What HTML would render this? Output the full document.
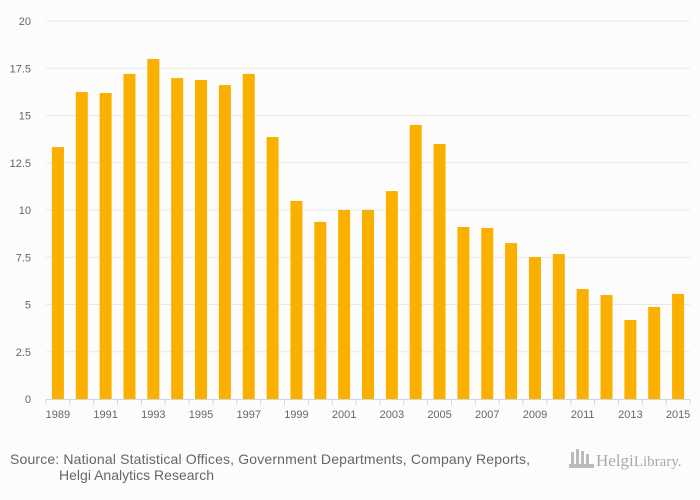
<!DOCTYPE html>
<html><head><meta charset="utf-8"><style>
body{margin:0;background:#fcfcfc;font-family:"Liberation Sans",sans-serif;}
svg{display:block}
</style></head><body>
<svg width="700" height="500">
<g id="grid"></g>
<g id="bars"></g>
<g id="axes"></g>
<text x="10" y="464" font-size="14" fill="#666" textLength="520">Source: National Statistical Offices, Government Departments, Company Reports,</text>
<text x="59" y="480" font-size="14" fill="#666" textLength="155">Helgi Analytics Research</text>
<g>
<rect x="571" y="452" width="3" height="13" fill="#bbb"/><rect x="576" y="449" width="3" height="16" fill="#bbb"/><rect x="581" y="451" width="3" height="14" fill="#bbb"/><rect x="586" y="454" width="3" height="11" fill="#bbb"/>
<rect x="569" y="464" width="25" height="4" fill="#bbb"/>
<text x="596" y="466" font-size="17" fill="#aaa" font-family="Liberation Serif,serif">Helgi<tspan font-size="15">Library.</tspan></text>
</g>
</svg>
<script>
const years=[1989,1990,1991,1992,1993,1994,1995,1996,1997,1998,1999,2000,2001,2002,2003,2004,2005,2006,2007,2008,2009,2010,2011,2012,2013,2014,2015];
const values=[13.33,16.24,16.19,17.2,17.99,16.98,16.88,16.61,17.2,13.86,10.48,9.37,10.0,10.0,11.0,14.5,13.49,9.1,9.05,8.25,7.51,7.67,5.82,5.5,4.18,4.87,5.56];
const yTicks=[0,2.5,5,7.5,10,12.5,15,17.5,20];
const yTickLabels=["0","2.5","5","7.5","10","12.5","15","17.5","20"];
const NS="http://www.w3.org/2000/svg";
const x0=46,x1=690,y0=399,yTop=21,ymax=20;
const band=(x1-x0)/years.length;
const yS=v=>y0-(v/ymax)*(y0-yTop);
const xS=i=>x0+band*i+band/2;
function mk(t,a,p){const e=document.createElementNS(NS,t);for(const k in a)e.setAttribute(k,a[k]);p.appendChild(e);return e;}
const grid=document.getElementById('grid'),bars=document.getElementById('bars'),axes=document.getElementById('axes');
yTicks.forEach((v,i)=>{
  if(v>0){const l=mk('line',{x1:x0,x2:x1,y1:yS(v),y2:yS(v),stroke:'#e8e8e8','stroke-width':1},grid);
  
  }
  const t=mk('text',{x:31,y:yS(v)+4,'font-size':11,fill:'#666','text-anchor':'end'},axes);
  t.textContent=yTickLabels[i];
  
  
});
values.forEach((v,i)=>{
  const r=mk('rect',{x:xS(i)-6,y:yS(v),width:12,height:y0-yS(v),fill:'#fbb000'},bars);
  
  
});
const ax=mk('line',{x1:x0,x2:x1,y1:y0+0.5,y2:y0+0.5,stroke:'#ccd6eb','stroke-width':1},axes);


for(let i=0;i<=years.length;i++){
  const tk=mk('line',{x1:x0+band*i,x2:x0+band*i,y1:y0,y2:y0+6,stroke:'#ccd6eb'},axes);
  
  
}
years.forEach((y,i)=>{
  if(i%2)return;
  const t=mk('text',{x:xS(i),y:418,'font-size':11,fill:'#666','text-anchor':'middle'},axes);
  t.textContent=y;
  
  
});
</script>
</body></html>
